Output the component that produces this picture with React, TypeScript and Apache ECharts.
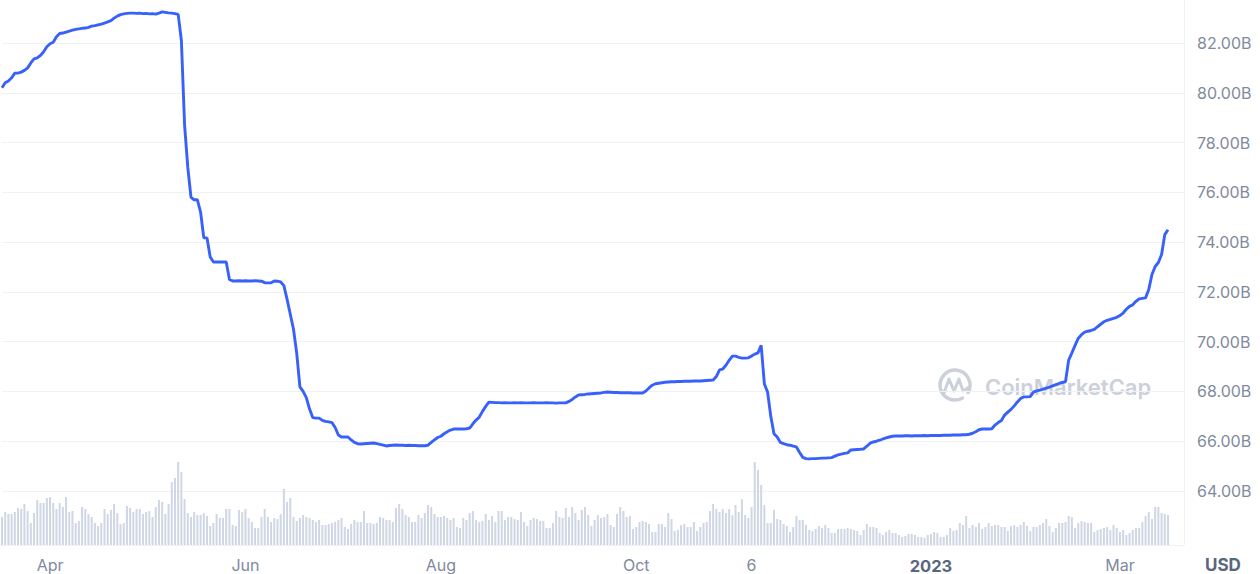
import React, { useEffect, useRef } from "react";
import * as echarts from "echarts";

// Daily categories: 2022-03-17 .. 2023-03-21 (the axis runs a few days past the last data point)
const START_YEAR = 2022;
const START_MONTH = 2; // March (0-based)
const START_DAY = 17;
const DAY_COUNT = 370;

// Market cap in billions USD, one value per day from 2022-03-17
const marketCapB: number[] = [
  80.2, 80.4, 80.47, 80.6, 80.79, 80.79, 80.83, 80.9, 81.0, 81.2,
  81.36, 81.4, 81.5, 81.65, 81.85, 81.97, 82.03, 82.25, 82.38, 82.4,
  82.44, 82.48, 82.52, 82.55, 82.57, 82.59, 82.6, 82.63, 82.68, 82.7,
  82.73, 82.76, 82.8, 82.85, 82.9, 83.0, 83.08, 83.14, 83.17, 83.19,
  83.2, 83.2, 83.19, 83.2, 83.18, 83.19, 83.17, 83.18, 83.16, 83.2,
  83.25, 83.23, 83.21, 83.2, 83.18, 83.15, 82.1, 78.7, 77.0, 75.8,
  75.7, 75.7, 75.2, 74.17, 74.17, 73.4, 73.2, 73.2, 73.2, 73.2,
  73.2, 72.5, 72.44, 72.44, 72.45, 72.44, 72.45, 72.44, 72.44, 72.45,
  72.44, 72.43, 72.37, 72.36, 72.37, 72.44, 72.43, 72.4, 72.25, 71.7,
  71.1, 70.5, 69.54, 68.18, 68.0, 67.75, 67.3, 66.95, 66.93, 66.93,
  66.84, 66.8, 66.78, 66.75, 66.55, 66.25, 66.17, 66.17, 66.17, 66.05,
  65.95, 65.9, 65.89, 65.9, 65.91, 65.92, 65.93, 65.9, 65.87, 65.84,
  65.81, 65.83, 65.84, 65.85, 65.84, 65.84, 65.83, 65.84, 65.83, 65.83,
  65.82, 65.82, 65.82, 65.84, 65.95, 66.05, 66.15, 66.2, 66.3, 66.38,
  66.45, 66.49, 66.49, 66.49, 66.49, 66.5, 66.53, 66.7, 66.85, 66.97,
  67.2, 67.4, 67.57, 67.56, 67.55, 67.55, 67.54, 67.55, 67.54, 67.54,
  67.55, 67.54, 67.55, 67.54, 67.54, 67.54, 67.55, 67.54, 67.54, 67.54,
  67.55, 67.54, 67.54, 67.53, 67.54, 67.54, 67.54, 67.6, 67.68, 67.78,
  67.86, 67.87, 67.88, 67.9, 67.91, 67.92, 67.93, 67.94, 67.96, 67.98,
  67.97, 67.96, 67.96, 67.95, 67.95, 67.95, 67.95, 67.94, 67.94, 67.94,
  67.94, 68.02, 68.14, 68.25, 68.31, 68.33, 68.35, 68.37, 68.38, 68.39,
  68.39, 68.4, 68.4, 68.41, 68.41, 68.41, 68.42, 68.42, 68.42, 68.43,
  68.44, 68.45, 68.46, 68.6, 68.87, 68.9, 69.05, 69.25, 69.42, 69.42,
  69.37, 69.34, 69.34, 69.35, 69.42, 69.5, 69.55, 69.85, 68.3, 67.98,
  67.0, 66.3, 66.17, 65.95, 65.9, 65.86, 65.84, 65.8, 65.77, 65.55,
  65.35, 65.3, 65.29, 65.3, 65.3, 65.31, 65.32, 65.32, 65.33, 65.34,
  65.4, 65.45, 65.48, 65.51, 65.53, 65.65, 65.66, 65.67, 65.68, 65.69,
  65.8, 65.92, 65.97, 66.0, 66.04, 66.09, 66.13, 66.17, 66.2, 66.21,
  66.21, 66.21, 66.22, 66.22, 66.21, 66.22, 66.22, 66.22, 66.23, 66.22,
  66.23, 66.23, 66.23, 66.23, 66.24, 66.24, 66.24, 66.25, 66.25, 66.25,
  66.26, 66.26, 66.28, 66.32, 66.38, 66.46, 66.49, 66.49, 66.49, 66.5,
  66.65, 66.75, 66.83, 67.05, 67.17, 67.28, 67.42, 67.58, 67.72, 67.78,
  67.78, 67.79, 67.97, 68.02, 68.05, 68.09, 68.13, 68.17, 68.22, 68.27,
  68.32, 68.36, 68.39, 69.26, 69.55, 69.85, 70.14, 70.28, 70.38, 70.42,
  70.45, 70.49, 70.6, 70.7, 70.8, 70.86, 70.9, 70.94, 70.98, 71.05,
  71.15, 71.3, 71.42, 71.48, 71.62, 71.72, 71.74, 71.76, 72.1, 72.7,
  73.02, 73.18, 73.5, 74.3, 74.5,
];

// 24h volume in billions USD, one value per day from 2022-03-17
const volumeB: number[] = [
  28, 33, 31, 31, 33, 37, 36, 41, 34, 22,
  32, 45, 42, 42, 47, 48, 42, 36, 42, 38,
  48, 33, 34, 22, 24, 38, 36, 31, 28, 22,
  19, 22, 36, 31, 35, 41, 32, 21, 22, 39,
  37, 33, 36, 36, 31, 33, 34, 28, 38, 45,
  43, 31, 41, 63, 67, 83, 73, 46, 32, 28,
  33, 30, 30, 32, 29, 19, 22, 31, 27, 27,
  36, 36, 20, 19, 35, 33, 36, 27, 23, 17,
  17, 28, 36, 28, 23, 27, 26, 31, 56, 43,
  47, 28, 24, 27,
  30, 28, 27, 25, 23, 25, 20, 20, 21, 22,
  23, 25, 27, 18, 16, 21, 25, 23, 23, 34,
  22, 22, 21, 22, 28, 27, 25, 25, 23, 37,
  41, 36, 30, 28, 23, 23, 30, 27, 32, 40,
  38, 31, 28, 28, 29, 27, 25, 27, 18, 17,
  27, 25, 32, 34, 25, 23, 24, 31, 25, 29,
  23, 34, 34, 25, 28, 28, 26, 25, 33, 23,
  19, 25, 27, 26, 24, 24, 17, 17, 22, 34,
  28, 27, 37, 28, 38, 32, 25, 35, 38, 30,
  19, 25, 30, 27,
  28, 31, 20, 18, 31, 38, 34, 28, 29, 16,
  18, 23, 24, 23, 21, 13, 13, 21, 21, 18,
  32, 26, 14, 15, 20, 21, 18, 18, 23, 14,
  18, 22, 23, 34, 41, 36, 33, 36, 32, 36,
  30, 40, 33, 46, 30, 27, 38, 83,
  75, 60, 40, 22, 22, 35, 26, 25, 21, 19,
  13, 18, 29, 25, 25, 20, 15, 14, 16, 19,
  17, 20, 17, 12, 12, 16,
  16, 16, 17, 16, 15, 14, 10, 15, 21, 18,
  18, 17, 12, 10, 13, 15, 12, 12, 10, 8,
  9, 11, 11, 10, 8, 8, 7, 10, 11, 13,
  12, 8, 8, 10, 17, 14, 15, 22, 20, 29,
  17, 20, 18, 22, 16, 18, 22, 19, 20, 20,
  18, 18, 14, 19, 20, 18, 20, 23, 19, 14,
  18, 18, 20, 22, 26, 19, 13, 17, 22, 22,
  23, 29, 28, 17, 22, 24, 23, 22, 22, 13,
  15, 16, 17, 18, 15, 20, 17, 13, 15, 10,
  12, 15, 17, 17, 23, 29, 33, 26, 38, 38,
  32, 31, 30,
];

// X-axis tick labels
const xTickDates = ["2022-04-01", "2022-06-01", "2022-08-01", "2022-10-01", "2022-11-06", "2023-01-01", "2023-03-01"];
const xTickTexts = ["Apr", "Jun", "Aug", "Oct", "6", "2023", "Mar"];
const xTickBold = ["2023"];

// Y-axis ticks (billions)
const yMin = 64;
const yMax = 82;
const yStep = 2;

function buildDates(): string[] {
  const out: string[] = [];
  const d = new Date(Date.UTC(START_YEAR, START_MONTH, START_DAY));
  for (let i = 0; i < DAY_COUNT; i++) {
    out.push(d.toISOString().slice(0, 10));
    d.setUTCDate(d.getUTCDate() + 1);
  }
  return out;
}

const FONT = "Inter, 'Noto Sans', sans-serif";
const GRAY = "#808a9d";
const DARK = "#58667e";
const GRID_LINE = "#eff2f5";

export default function App() {
  const ref = useRef<HTMLDivElement | null>(null);

  useEffect(() => {
    if (!ref.current) return;
    const chart = echarts.init(ref.current, undefined, { renderer: "svg" });
    const dates = buildDates();
    const tickMap = new Map<string, string>();
    xTickDates.forEach((d, i) => tickMap.set(d, xTickTexts[i]));

    const option: any = {
      animation: false,
      backgroundColor: "#ffffff",
      grid: [
        { left: 2, right: 76, top: 43, bottom: 83 },
        { left: 2, right: 76, top: 445, bottom: 29 },
      ],
      xAxis: [
        { type: "category", gridIndex: 0, data: dates, boundaryGap: false, show: false },
        {
          type: "category",
          gridIndex: 1,
          data: dates,
          boundaryGap: false,
          axisLine: { show: false },
          axisTick: { show: false },
          splitLine: { show: false },
          axisLabel: {
            interval: (_i: number, v: string) => tickMap.has(v),
            formatter: (v: string) => {
              const t = tickMap.get(v) || "";
              return xTickBold.includes(t) ? `{b|${t}}` : t;
            },
            color: GRAY,
            fontSize: 16,
            fontFamily: FONT,
            margin: 12,
            rich: {
              b: { fontWeight: "bold", color: DARK, fontSize: 16.5, fontFamily: FONT },
            },
          },
        },
      ],
      yAxis: [
        {
          type: "value",
          gridIndex: 0,
          position: "right",
          min: yMin,
          max: yMax,
          interval: yStep,
          axisLine: { show: false },
          axisTick: { show: false },
          splitLine: { show: true, lineStyle: { color: GRID_LINE, width: 1 } },
          axisLabel: {
            formatter: (v: number) => v.toFixed(2) + "B",
            color: GRAY,
            fontSize: 16,
            fontFamily: FONT,
            margin: 13,
          },
        },
        { type: "value", gridIndex: 1, min: 0, max: 100, show: false, splitLine: { show: false } },
      ],
      series: [
        {
          type: "bar",
          xAxisIndex: 1,
          yAxisIndex: 1,
          data: volumeB,
          barWidth: 2,
          itemStyle: { color: "#cfd6e4" },
          z: 1,
        },
        {
          type: "line",
          xAxisIndex: 0,
          yAxisIndex: 0,
          data: marketCapB,
          symbol: "none",
          showSymbol: false,
          clip: false,
          lineStyle: { color: "#3861fb", width: 2.9 },
          z: 5,
        },
      ],
      graphic: [
        { type: "line", z: 0, silent: true, shape: { x1: 1184.5, y1: 0, x2: 1184.5, y2: 545 }, style: { stroke: GRID_LINE, lineWidth: 1 } },
        { type: "line", z: 0, silent: true, shape: { x1: 0, y1: 545.5, x2: 1184, y2: 545.5 }, style: { stroke: GRID_LINE, lineWidth: 1 } },
        {
          type: "text",
          x: 1205,
          y: 565,
          silent: true,
          style: { text: "USD", fontSize: 17, fontWeight: "bold", fontFamily: FONT, fill: DARK, verticalAlign: "middle", align: "left" },
        },
        {
          type: "group",
          z: 0,
          silent: true,
          children: [
            {
              type: "arc",
              shape: { cx: 955, cy: 385, r: 15, startAngle: Math.PI / 3, endAngle: 2 * Math.PI + Math.PI / 6, clockwise: true },
              style: { stroke: "#cbd0da", lineWidth: 3.5, fill: "none", lineCap: "round" },
            },
            {
              type: "polyline",
              shape: { points: [[944, 393], [949, 379], [954, 391], [959, 379], [963, 391], [969, 387]] },
              style: { stroke: "#cbd0da", lineWidth: 3, fill: "none", lineJoin: "round", lineCap: "round" },
            },
            {
              type: "text",
              x: 985,
              y: 387,
              style: { text: "CoinMarketCap", fontSize: 22, fontWeight: 600, fontFamily: FONT, fill: "#cbd0da", verticalAlign: "middle", align: "left" },
            },
          ],
        },
      ],
    };

    chart.setOption(option);
    return () => chart.dispose();
  }, []);

  return <div ref={ref} style={{ position: "fixed", left: 0, top: 0, width: 1260, height: 574 }} />;
}
